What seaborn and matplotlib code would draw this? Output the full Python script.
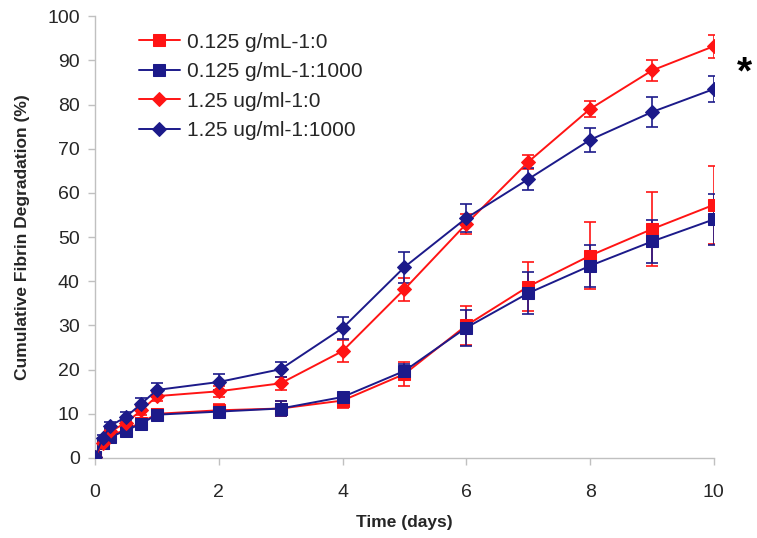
import matplotlib
matplotlib.use("Agg")
import matplotlib.pyplot as plt
import seaborn as sns
import pandas as pd

time_days = [0, 0.125, 0.25, 0.5, 0.75, 1, 2, 3, 4, 5, 6, 7, 8, 9, 10]

series_names = ["0.125 g/mL-1:0", "0.125 g/mL-1:1000", "1.25 ug/ml-1:0", "1.25 ug/ml-1:1000"]

red_square = [0.3, 3.5, 5.0, 6.5, 8.0, 10.0, 10.8, 11.2, 13.0, 19.0, 30.0, 38.8, 45.8, 51.8, 57.3]
red_square_err = [0.3, 0.8, 0.8, 1.0, 1.0, 1.2, 1.5, 1.8, 1.6, 2.7, 4.5, 5.5, 7.5, 8.3, 8.8]

blue_square = [0.3, 3.3, 4.8, 6.2, 7.8, 9.8, 10.5, 11.2, 13.8, 19.7, 29.5, 37.3, 43.5, 49.0, 54.0]
blue_square_err = [0.3, 0.8, 0.8, 1.0, 1.0, 1.2, 1.5, 1.6, 1.0, 1.5, 4.1, 4.8, 4.7, 4.9, 5.7]

red_diamond = [0.3, 3.3, 6.0, 8.0, 10.8, 14.0, 15.1, 16.9, 24.2, 38.2, 53.0, 67.0, 79.0, 87.7, 93.2]
red_diamond_err = [0.3, 0.6, 0.8, 0.8, 1.0, 1.0, 1.3, 1.4, 2.5, 2.6, 2.3, 1.5, 1.8, 2.4, 2.6]

blue_diamond = [0.3, 4.5, 7.3, 9.3, 12.3, 15.4, 17.2, 20.1, 29.4, 43.2, 54.3, 63.1, 72.0, 78.3, 83.5]
blue_diamond_err = [0.3, 0.8, 0.8, 1.0, 1.2, 1.5, 1.7, 1.7, 2.4, 3.5, 3.2, 2.5, 2.7, 3.4, 2.9]

RED = "#ff1414"
NAVY = "#1c1a8a"

sns.set_theme(style="white")
plt.rcParams["font.family"] = ["Liberation Sans", "DejaVu Sans"]

fig = plt.figure(figsize=(7.57, 5.38), dpi=100)
ax = fig.add_axes([0.1255, 0.1487, 0.8175, 0.8213])

specs = [
    (series_names[0], red_square, red_square_err, RED, "s", 8),
    (series_names[1], blue_square, blue_square_err, NAVY, "s", 8),
    (series_names[2], red_diamond, red_diamond_err, RED, "D", 7),
    (series_names[3], blue_diamond, blue_diamond_err, NAVY, "D", 7),
]

for name, vals, errs, col, mk, ms in specs:
    df = pd.DataFrame({"t": time_days, "v": vals})
    ax.errorbar(time_days, vals, yerr=errs, fmt="none", ecolor=col,
                elinewidth=1.2, capsize=4, capthick=1.2, zorder=2)
    sns.lineplot(data=df, x="t", y="v", ax=ax, color=col, marker=mk,
                 markersize=ms, markeredgecolor=col, linewidth=1.4,
                 label=name, zorder=3)

ax.set_xlim(0, 10)
ax.set_ylim(0, 100)
ax.set_xticks(range(0, 11, 2))
ax.set_yticks(range(0, 101, 10))
ax.tick_params(axis="both", labelsize=14, length=5, width=1,
               color="#c0c0c0", direction="out", left=True, bottom=True, pad=6)
ax.tick_params(axis="x", pad=14)
for side in ["top", "right"]:
    ax.spines[side].set_visible(False)
for side in ["left", "bottom"]:
    ax.spines[side].set_color("#c0c0c0")
    ax.spines[side].set_linewidth(1)
ax.grid(False)

ax.set_xlabel("Time (days)", fontsize=12.5, fontweight="bold", labelpad=10)
ax.set_ylabel("Cumulative Fibrin Degradation (%)", fontsize=12.5, fontweight="bold", labelpad=12)

leg = ax.legend(loc="upper left", bbox_to_anchor=(0.04, 1.005), frameon=False,
                fontsize=15, handlelength=2.0, labelspacing=0.5, handletextpad=0.35)

ax.text(10.5, 87, "*", fontsize=28, fontweight="bold", ha="center", va="center",
        transform=ax.transData, clip_on=False, color="black")

fig.savefig("out.png", dpi=100)
